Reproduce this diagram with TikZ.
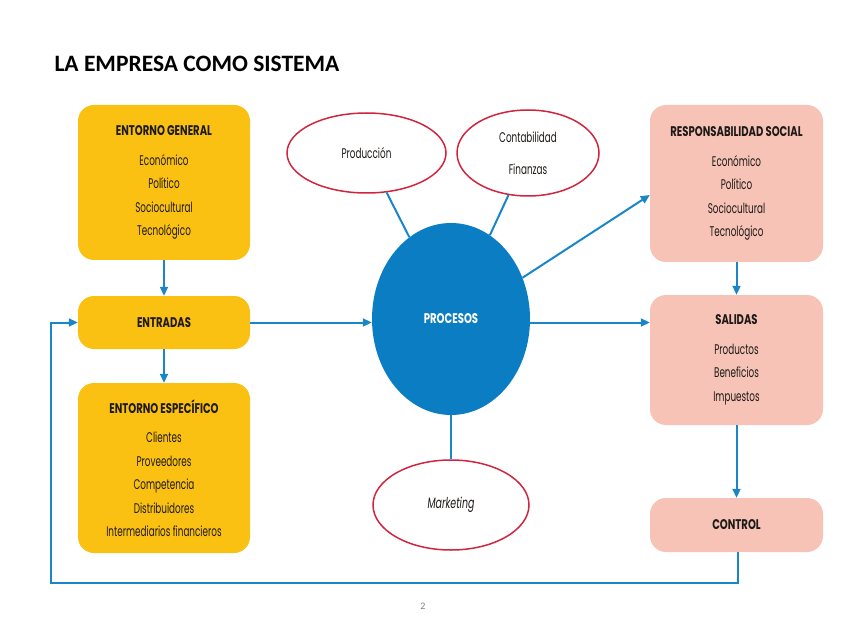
\documentclass[tikz,border=0pt]{standalone}
\usepackage{fontspec}
\usetikzlibrary{arrows.meta,shapes.geometric}
\newfontfamily\titlefont{Carlito}
\newfontfamily\futfont[FakeStretch=0.63]{Poppins}
\newfontfamily\futhd[FakeStretch=0.72]{Poppins}
\definecolor{ybox}{HTML}{FBC112}
\definecolor{pbox}{HTML}{F6C3B6}
\definecolor{pblue}{HTML}{0B7DC2}
\definecolor{lblue}{HTML}{1A86C8}
\definecolor{ered}{HTML}{D0253F}
\definecolor{txt}{HTML}{1E1A18}
\tikzset{
  box/.style={rounded corners=16pt, inner sep=0pt, align=center, text=txt,
    font=\futfont\fontsize{14}{23.5}\selectfont},
  ybx/.style={box, fill=ybox},
  pbx/.style={box, fill=pbox},
  oval/.style={ellipse, draw=ered, line width=1.5pt, fill=white, inner sep=0pt,
    text=txt, align=center, font=\futfont\fontsize{14}{32}\selectfont},
  conn/.style={draw=lblue, line width=2pt},
  arr/.style={conn, -{Triangle[length=9pt,width=8pt]}},
}
\newcommand{\hd}[1]{{\futhd\bfseries #1}\\[6pt]}
\begin{document}
\begin{tikzpicture}[x=1pt,y=-1pt]
\useasboundingbox (0,0) rectangle (848,636);
\node[anchor=base west, font=\titlefont\bfseries\fontsize{23.5}{26}\selectfont] (title) at (51,72) {LA EMPRESA COMO SISTEMA};
% left boxes
\node[ybx, minimum width=172pt, minimum height=155pt] (eg) at (164,182.5)
  {\hd{ENTORNO GENERAL}Económico\\Político\\Sociocultural\\Tecnológico};
\node[ybx, minimum width=172pt, minimum height=53pt] (ent) at (164,322.5) {{\futhd\bfseries ENTRADAS}};
\node[ybx, minimum width=172pt, minimum height=170pt] (ee) at (164,468)
  {\hd{ENTORNO ESPECÍFICO}Clientes\\Proveedores\\Competencia\\Distribuidores\\Intermediarios financieros};
% right boxes
\node[pbx, minimum width=173pt, minimum height=157pt] (rs) at (736.5,183.5)
  {\hd{RESPONSABILIDAD SOCIAL}Económico\\Político\\Sociocultural\\Tecnológico};
\node[pbx, minimum width=173pt, minimum height=130pt] (sal) at (736.5,360)
  {\hd{SALIDAS}Productos\\Beneficios\\Impuestos};
\node[pbx, minimum width=173pt, minimum height=54pt] (ctl) at (736.5,525) {{\futhd\bfseries CONTROL}};
% center
\node[ellipse, fill=pblue, minimum width=158pt, minimum height=192pt, inner sep=0pt,
  text=white, font=\futhd\bfseries\fontsize{14}{16}\selectfont] (proc) at (451,319) {PROCESOS};
\node[oval, minimum width=159pt, minimum height=80pt] (prod) at (366.5,153) {Producción};
\node[oval, minimum width=142pt, minimum height=86pt] (cont) at (528,153) {Contabilidad\\Finanzas};
\node[oval, minimum width=156pt, minimum height=90pt] (mkt) at (451,505) {\fontsize{15}{18}\selectfont\itshape Marketing};
\node[font=\titlefont\fontsize{10}{12}\selectfont, text=gray] (pg) at (423,606) {2};
% connectors
\draw[conn] (prod) -- (proc);
\draw[conn] (cont) -- (proc);
\draw[conn] (proc) -- (mkt);
\draw[arr] (eg) -- (ent);
\draw[arr] (ent) -- (proc.west |- ent);
\draw[arr] (proc.east |- ent) -- (sal.west |- ent);
\draw[arr] (proc.30) -- (rs.west |- 0,195);
\draw[arr] (ent) -- (ee);
\draw[arr] (rs) -- (sal);
\draw[arr] (sal) -- (ctl);
\coordinate (fb1) at (738,583);
\coordinate (fb2) at (51,583);
\coordinate (fb3) at (51,322.5);
\draw[arr] (ctl.south -| fb1) -- (fb1) -- (fb2) -- (fb3) -- (ent.west);
\end{tikzpicture}
\end{document}
